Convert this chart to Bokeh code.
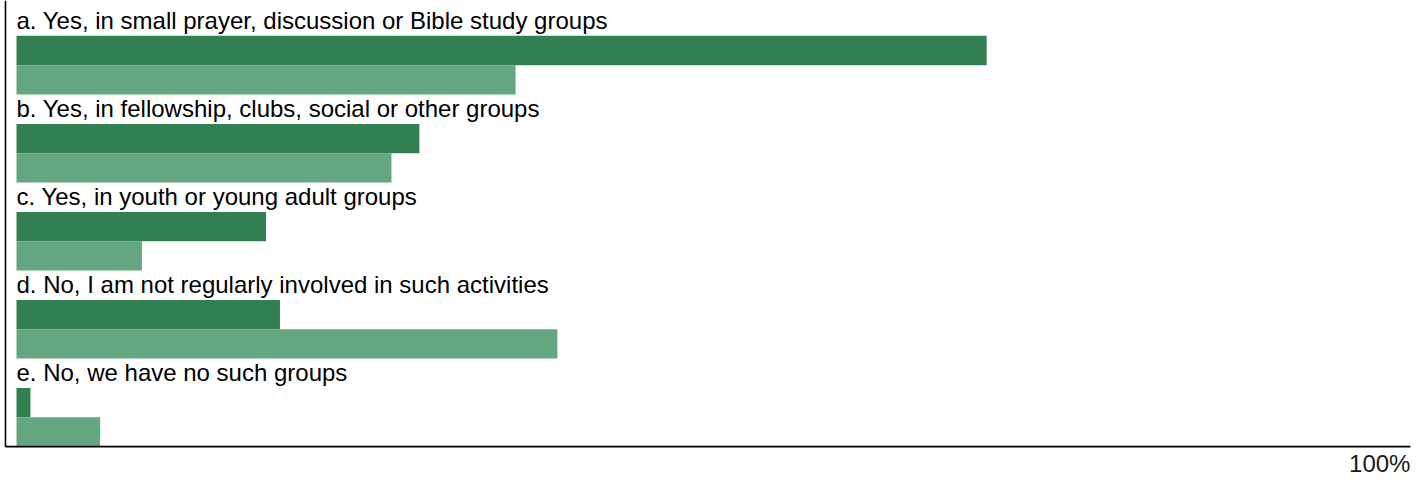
from bokeh.plotting import figure
from bokeh.models import Range1d, ColumnDataSource
from bokeh.core.properties import value
from bokeh.embed import file_html
from bokeh.resources import INLINE

categories = [
    "a. Yes, in small prayer, discussion or Bible study groups",
    "b. Yes, in fellowship, clubs, social or other groups",
    "c. Yes, in youth or young adult groups",
    "d. No, I am not regularly involved in such activities",
    "e. No, we have no such groups",
]
series_dark = [69.6, 28.9, 17.9, 18.9, 1.0]
series_light = [35.8, 26.9, 9.0, 38.8, 6.0]
axis_max_label = "100%"

DARK = "#327f52"
LIGHT = "#63a67f"
FONT = value("Liberation Sans")

idx = list(range(len(categories)))
n = len(categories)

src = ColumnDataSource(dict(
    label=categories,
    y_label=[i + 0.158 for i in idx],
    y_dark=[i + 0.5 for i in idx],
    y_light=[i + 0.833 for i in idx],
    dark=series_dark,
    light=series_light,
    zero=[0] * n,
))

x_start = -1.148
x_end = 100.29
y_top = -0.068
y_bottom = 5.43
axis_x = -0.79

p = figure(width=1414, height=484, output_backend="svg", toolbar_location=None,
           x_range=Range1d(x_start, x_end), y_range=Range1d(y_bottom, y_top),
           min_border=0, min_border_left=0, min_border_right=0,
           min_border_top=0, min_border_bottom=0)
p.axis.visible = False
p.grid.visible = False
p.outline_line_color = None
p.background_fill_color = "white"

p.hbar(y="y_dark", left="zero", right="dark", height=0.333, source=src,
       fill_color=DARK, line_color=None)
p.hbar(y="y_light", left="zero", right="light", height=0.333, source=src,
       fill_color=LIGHT, line_color=None)

p.text(x="zero", y="y_label", text="label", source=src, text_font=FONT,
       text_font_size="24px", text_color="black", text_baseline="alphabetic",
       text_align="left")

# axis lines
p.line(x=[axis_x, axis_x], y=[y_top, n], line_color="black", line_width=1.6)
p.line(x=[axis_x, 100.0], y=[n, n], line_color="black", line_width=1.6)

p.text(x=[100.0], y=[n + 0.19], text=[axis_max_label], text_font=FONT,
       text_font_size="24px", text_color="#1a1a1a", text_baseline="alphabetic",
       text_align="right")

open("out.html", "w").write(file_html(p, INLINE))
